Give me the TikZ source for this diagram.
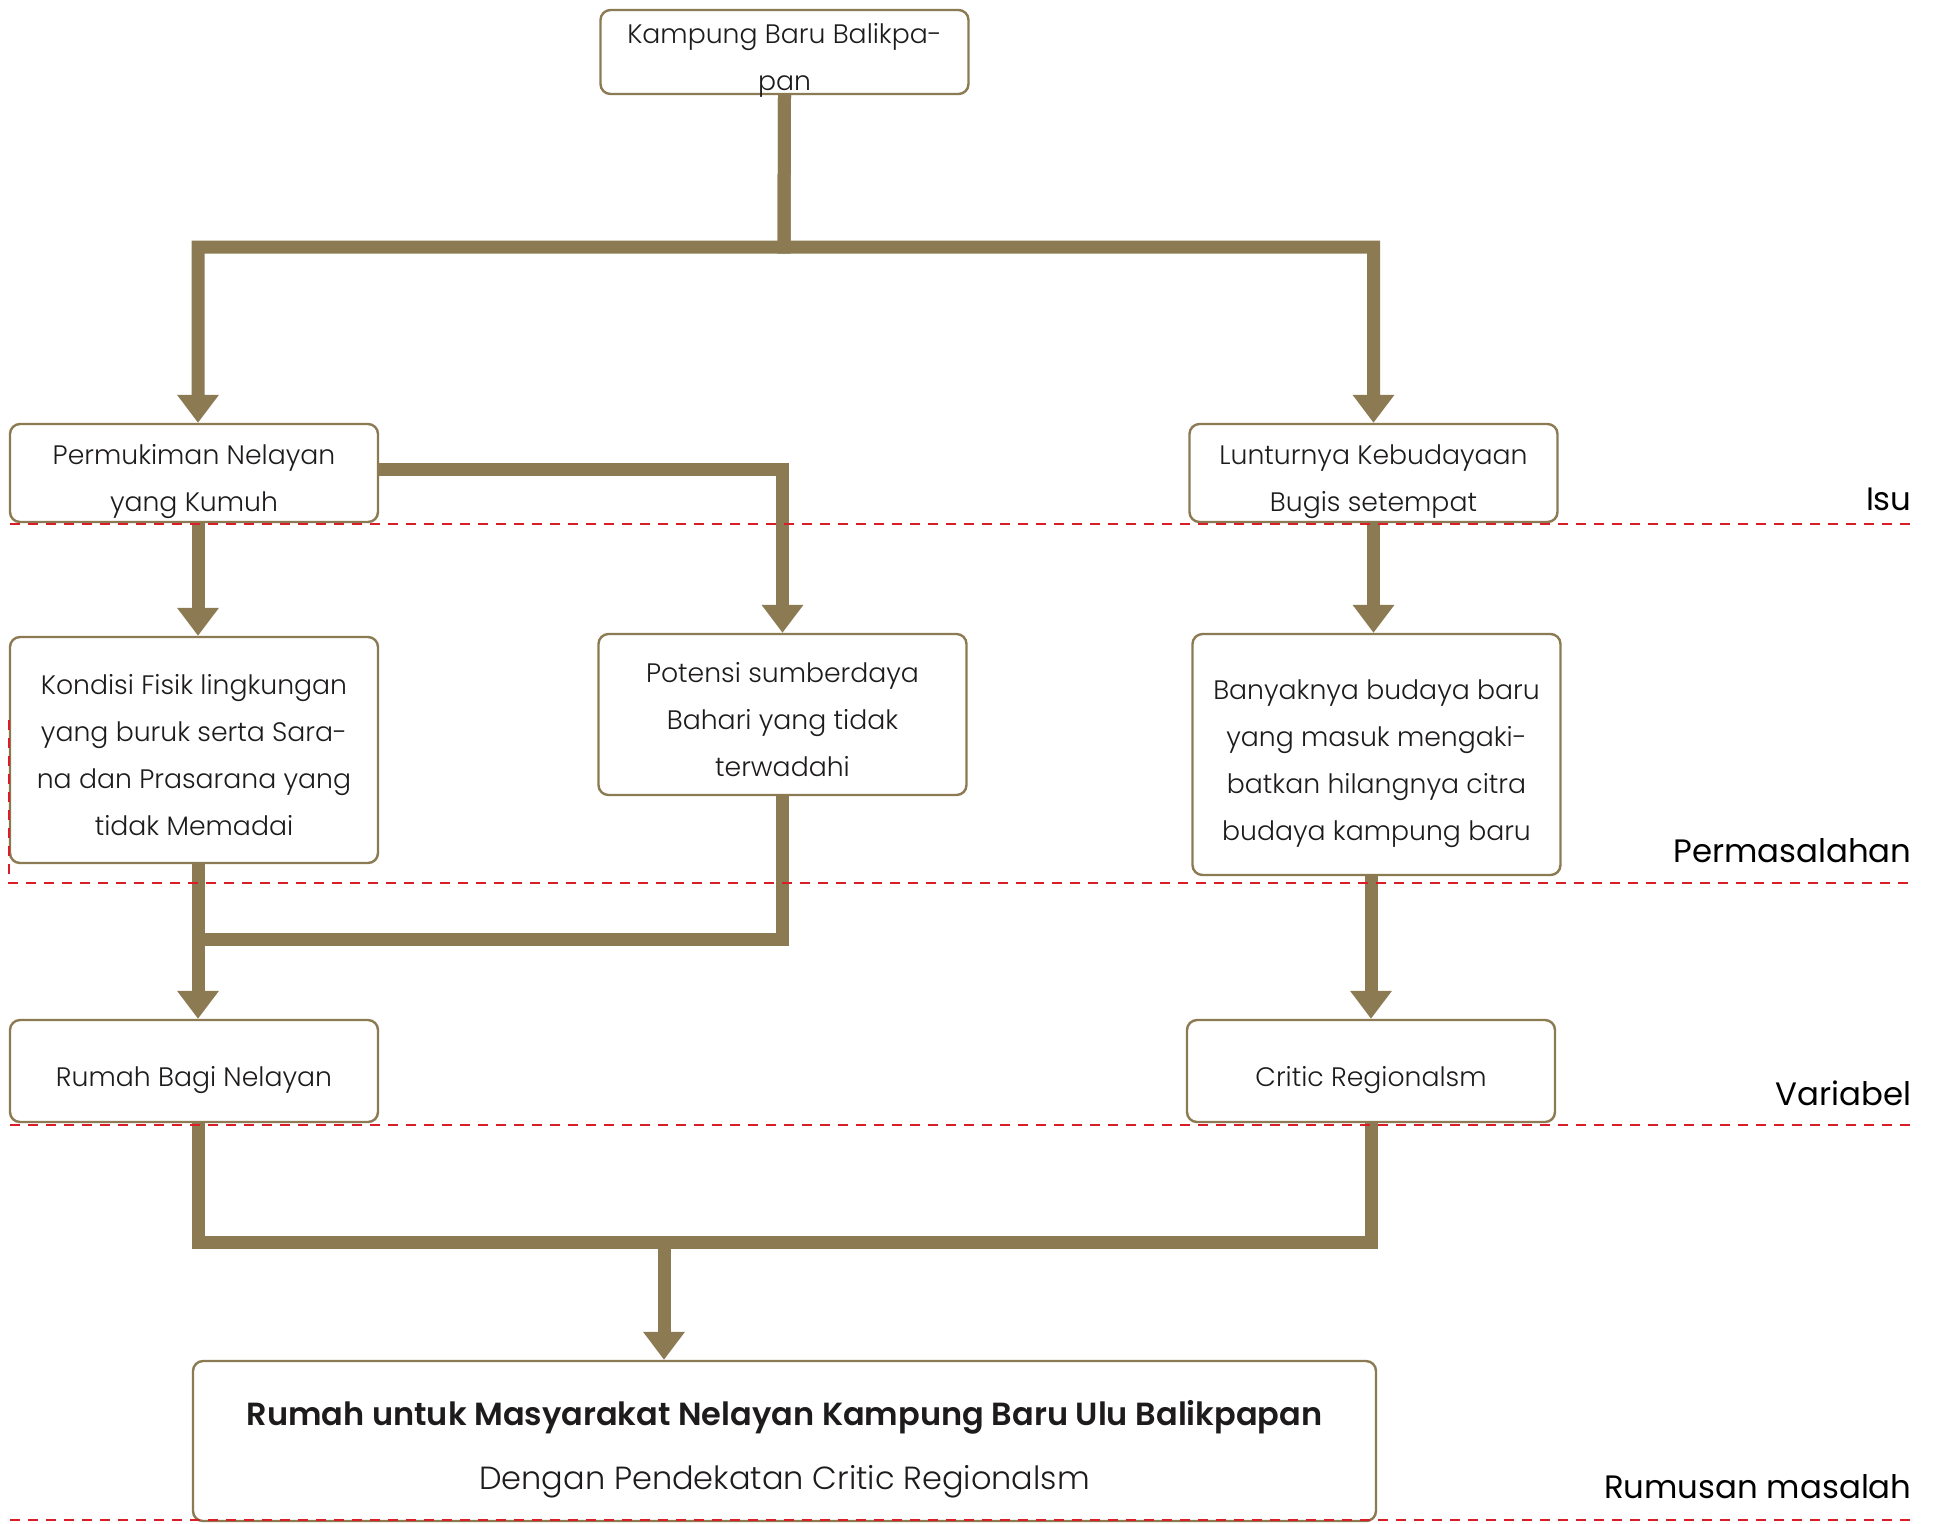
\documentclass[tikz,border=0pt]{standalone}
\usepackage{fontspec}
\setmainfont{Poppins}[UprightFont=* Light, BoldFont=* SemiBold]
\newfontfamily\labelfont{Poppins}
\usepackage{tikz}
\usetikzlibrary{arrows.meta, positioning}
\definecolor{flowbrown}{RGB}{140,122,82}
\definecolor{levelred}{RGB}{218,30,40}
\definecolor{inkgray}{RGB}{30,27,28}
\newcommand{\lstrut}{\rule[-4.25pt]{0pt}{23.5pt}}
\newcommand{\tstrut}{\rule[-8pt]{0pt}{32pt}}

\begin{document}
\begin{tikzpicture}[x=0.5pt, y=-0.5pt,
      % one unit is one pixel of the layout, y runs downwards
      box/.style={draw=flowbrown, line width=1.2pt, rounded corners=5pt,
      fill=white, minimum width=184pt, inner sep=0pt, align=center,
      text=inkgray, font=\fontsize{13.35pt}{23.5pt}\selectfont},
      boxtext/.style={inner sep=0pt, align=center, text=inkgray,
      font=\fontsize{13.35pt}{23.5pt}\selectfont},
      flow/.style={draw=flowbrown, line width=6.5pt,
      -{Triangle[width=20pt,length=14pt]}},
      flowline/.style={draw=flowbrown, line width=6.5pt},
      levelline/.style={draw=levelred, line width=1.3pt, dash pattern=on 5pt off 4pt},
      levellabel/.style={anchor=base east, inner sep=0pt, text=black,
      font=\labelfont\fontsize{16.2pt}{18pt}\selectfont} ]

    \useasboundingbox[fill=white] (0,0) rectangle (1938,1523);

    % Boxes
    \node[box, minimum height=42pt] (top) at (784.5,52) {};
    \node[boxtext] (toptext) at (top) {\lstrut Kampung Baru Balikpa-\\\lstrut pan};
    \node[box, minimum height=49pt] (perm) at (194,473) {\lstrut Permukiman Nelayan\\\lstrut yang Kumuh};
    \node[box, minimum height=49pt] (lunt) at (1373.5,473) {\lstrut Lunturnya Kebudayaan\\\lstrut Bugis setempat};
    \node[box, minimum height=113pt] (kond) at (194,750) {\lstrut Kondisi Fisik lingkungan\\\lstrut yang buruk serta Sara-\\\lstrut na dan Prasarana yang\\\lstrut tidak Memadai};
    \node[box, minimum height=80.5pt] (pot) at (782.5,714.5) {\lstrut Potensi sumberdaya\\\lstrut Bahari yang tidak\\\lstrut terwadahi};
    \node[box, minimum height=120.5pt] (bany) at (1376.5,754.5) {\lstrut Banyaknya budaya baru\\\lstrut yang masuk mengaki-\\\lstrut batkan hilangnya citra\\\lstrut budaya kampung baru};
    \node[box, minimum height=51pt] (rumah) at (194,1071) {\lstrut Rumah Bagi Nelayan};
    \node[box, minimum height=51pt] (critic) at (1371,1071) {\lstrut Critic Regionalsm};
    \node[box, minimum height=80pt, minimum width=591.5pt,
      font=\fontsize{16pt}{32pt}\selectfont] (final) at (784.5,1441)
      {\tstrut{\bfseries\fontsize{16pt}{32pt}\selectfont Rumah untuk Masyarakat Nelayan Kampung Baru Ulu Balikpapan}\\\tstrut Dengan Pendekatan Critic Regionalsm};

    % Junction points
    \coordinate (split) at (784,247); \coordinate (joinL) at (198,939);
    \coordinate (merge) at (664,1242);

    % Connectors
    \draw[flow] (top.south) -- (split) -| ([xshift=2pt]perm.north);
    \draw[flow] (top.south) -- (split) -| (lunt.north);
    \draw[flow] ([yshift=2pt]perm.east) -| (pot.north);
    \draw[flow] ([xshift=2pt]perm.south) -- ([xshift=2pt]kond.north);
    \draw[flow] (lunt.south) -- (lunt.south |- bany.north);
    \draw[flowline] (pot.south) |- (joinL);
    \draw[flow] ([xshift=2pt]kond.south) -- ([xshift=2pt]rumah.north);
    \draw[flow] (critic.north |- bany.south) -- (critic.north);
    \draw[flowline] ([xshift=2pt]rumah.south) |- (merge) -| (critic.south);
    \draw[flow] (merge) -- (merge |- final.north);

    % Level lines
    \draw[levelline] (10,524) -- (1912,524);
    \draw[levelline] (9,720) -- (9,883) -- (1912,883);
    \draw[levelline] (10,1125) -- (1912,1125);
    \draw[levelline] (10,1520) -- (1912,1520);

    % Level labels
    \node[levellabel] (isu) at (1912,510) {Isu};
    \node[levellabel] (masalah) at (1912,862) {Permasalahan};
    \node[levellabel] (variabel) at (1912,1105) {Variabel};
    \node[levellabel] (rumusan) at (1912,1498) {Rumusan masalah};

\end{tikzpicture}
\end{document}
